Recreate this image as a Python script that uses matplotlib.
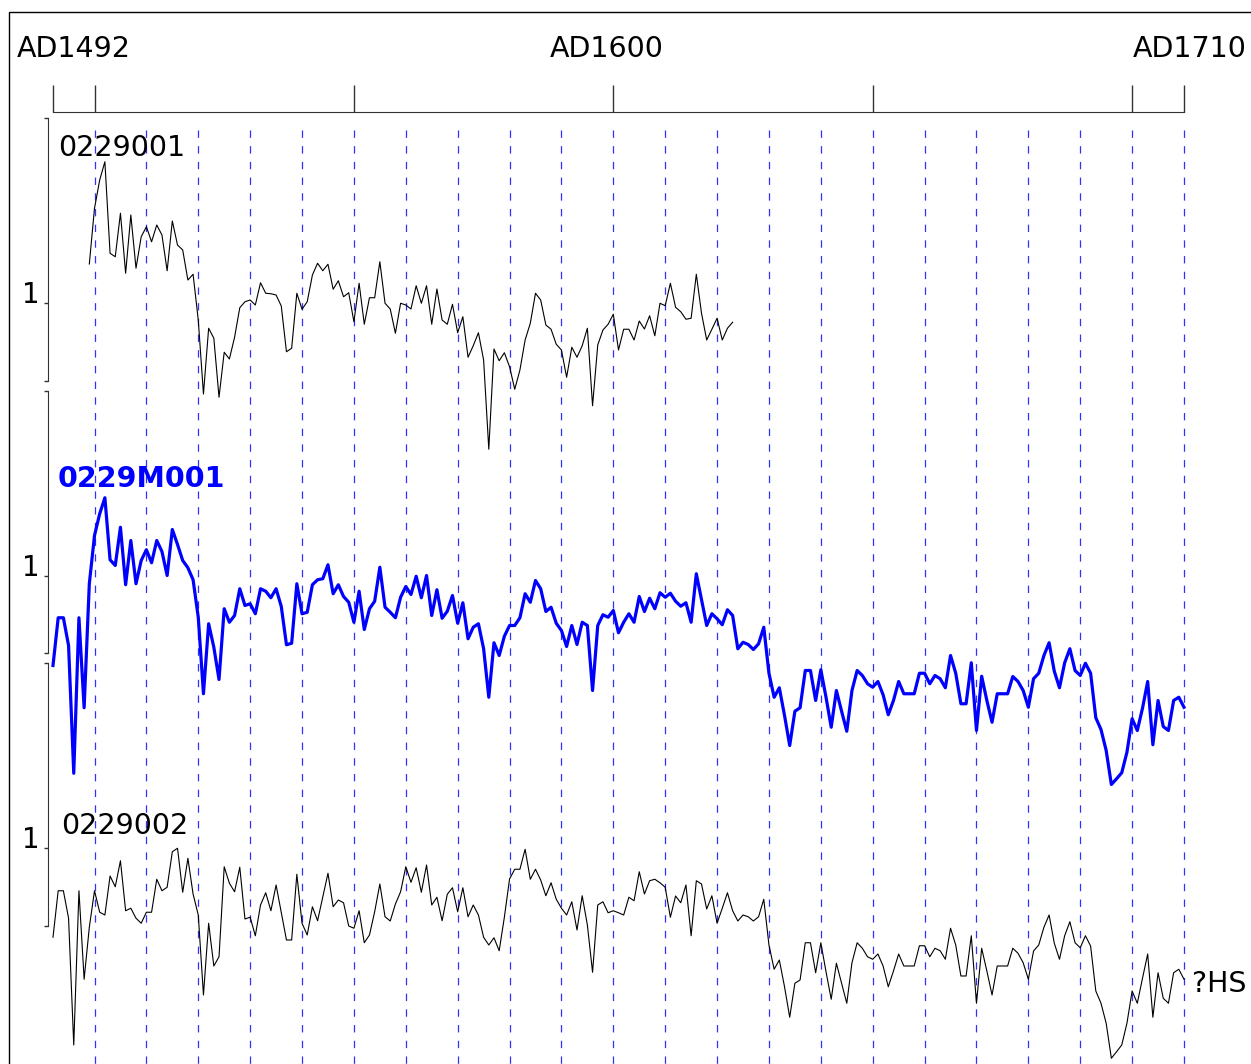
import numpy as np
import matplotlib.pyplot as plt
from matplotlib.patches import Rectangle

plt.rcParams['font.family'] = 'DejaVu Sans'
plt.rcParams['lines.scale_dashes'] = False

# ring-width indices
start_001 = 1499
idx_001 = [1.156,
           1.379, 1.492, 1.565, 1.199, 1.185, 1.359, 1.119, 1.352, 1.139, 1.265,
           1.305, 1.245, 1.312, 1.272, 1.129, 1.328, 1.232, 1.212, 1.092, 1.115,
           0.932, 0.636, 0.899, 0.859, 0.623, 0.803, 0.776, 0.863, 0.981, 1.005,
           1.012, 0.992, 1.081, 1.039, 1.037, 1.032, 0.988, 0.805, 0.819, 1.039,
           0.975, 1.005, 1.112, 1.159, 1.129, 1.155, 1.055, 1.089, 1.025, 1.041,
           0.925, 1.079, 0.915, 1.021, 1.021, 1.165, 0.999, 0.976, 0.879, 0.999,
           0.992, 0.976, 1.069, 0.999, 1.069, 0.915, 1.056, 0.932, 0.915, 0.995,
           0.881, 0.945, 0.783, 0.829, 0.881, 0.772, 0.415, 0.816, 0.769, 0.801,
           0.745, 0.655, 0.732, 0.852, 0.919, 1.039, 1.012, 0.912, 0.895, 0.835,
           0.812, 0.703, 0.823, 0.783, 0.829, 0.899, 0.589, 0.832, 0.892, 0.915,
           0.955, 0.812, 0.895, 0.895, 0.852, 0.928, 0.896, 0.949, 0.869, 0.999,
           0.989, 1.079, 0.983, 0.965, 0.935, 0.939, 1.115, 0.959, 0.852, 0.895,
           0.939, 0.852, 0.899, 0.923]

start_m = 1492
idx_m = [0.640, 0.831, 0.831, 0.720, 0.209, 0.831, 0.471, 0.967,
         1.160, 1.247, 1.311, 1.063, 1.040, 1.193, 0.963, 1.140, 0.967, 1.060,
         1.103, 1.051, 1.140, 1.096, 1.000, 1.184, 1.124, 1.060, 1.031, 0.983,
         0.833, 0.527, 0.807, 0.713, 0.584, 0.867, 0.813, 0.840, 0.947, 0.880,
         0.887, 0.847, 0.947, 0.937, 0.911, 0.947, 0.876, 0.723, 0.729, 0.967,
         0.847, 0.853, 0.963, 0.983, 0.987, 1.043, 0.927, 0.963, 0.916, 0.893,
         0.813, 0.937, 0.784, 0.867, 0.897, 1.033, 0.873, 0.853, 0.831, 0.913,
         0.956, 0.924, 0.997, 0.911, 1.000, 0.840, 0.943, 0.829, 0.857, 0.920,
         0.809, 0.891, 0.747, 0.793, 0.807, 0.707, 0.513, 0.731, 0.680, 0.757,
         0.800, 0.800, 0.831, 0.927, 0.893, 0.980, 0.947, 0.856, 0.873, 0.809,
         0.780, 0.716, 0.800, 0.724, 0.813, 0.800, 0.540, 0.800, 0.843, 0.833,
         0.860, 0.771, 0.813, 0.847, 0.813, 0.916, 0.856, 0.909, 0.867, 0.931,
         0.913, 0.929, 0.897, 0.877, 0.891, 0.813, 1.007, 0.903, 0.800, 0.847,
         0.827, 0.803, 0.863, 0.840, 0.707, 0.733, 0.724, 0.704, 0.727, 0.793,
         0.609, 0.513, 0.551, 0.440, 0.320, 0.457, 0.471, 0.620, 0.620, 0.500,
         0.623, 0.513, 0.393, 0.540, 0.457, 0.377, 0.540, 0.620, 0.600, 0.567,
         0.553, 0.576, 0.523, 0.443, 0.500, 0.576, 0.527, 0.527, 0.527, 0.609,
         0.609, 0.567, 0.600, 0.587, 0.551, 0.680, 0.609, 0.487, 0.487, 0.651,
         0.380, 0.597, 0.500, 0.413, 0.527, 0.527, 0.527, 0.596, 0.576, 0.540,
         0.473, 0.587, 0.609, 0.680, 0.731, 0.617, 0.551, 0.651, 0.707, 0.620,
         0.600, 0.649, 0.609, 0.431, 0.384, 0.300, 0.164, 0.187, 0.211, 0.293,
         0.427, 0.380, 0.469, 0.576, 0.323, 0.500, 0.396, 0.380, 0.500, 0.513, 0.473]

start_002 = 1492
idx_002 = [0.643, 0.829, 0.829, 0.719, 0.212, 0.829, 0.475, 0.683,
           0.829, 0.743, 0.732, 0.888, 0.845, 0.949, 0.749, 0.759, 0.719, 0.699,
           0.743, 0.743, 0.875, 0.829, 0.843, 0.985, 0.999, 0.823, 0.959, 0.816,
           0.732, 0.412, 0.699, 0.528, 0.565, 0.925, 0.859, 0.825, 0.923, 0.716,
           0.723, 0.649, 0.772, 0.821, 0.749, 0.852, 0.741, 0.632, 0.632, 0.895,
           0.699, 0.652, 0.765, 0.709, 0.803, 0.899, 0.765, 0.792, 0.781, 0.688,
           0.679, 0.749, 0.621, 0.652, 0.745, 0.856, 0.725, 0.708, 0.776, 0.825,
           0.925, 0.863, 0.921, 0.823, 0.932, 0.772, 0.803, 0.709, 0.815, 0.841,
           0.745, 0.841, 0.725, 0.772, 0.732, 0.643, 0.612, 0.641, 0.589, 0.723,
           0.876, 0.915, 0.915, 0.995, 0.875, 0.915, 0.872, 0.809, 0.861, 0.795,
           0.759, 0.732, 0.785, 0.672, 0.809, 0.692, 0.503, 0.772, 0.785, 0.741,
           0.749, 0.741, 0.732, 0.803, 0.789, 0.905, 0.816, 0.869, 0.875, 0.861,
           0.843, 0.723, 0.808, 0.781, 0.852, 0.649, 0.869, 0.856, 0.756, 0.809,
           0.699, 0.759, 0.821, 0.749, 0.708, 0.732, 0.725, 0.708, 0.725, 0.795,
           0.612, 0.515, 0.552, 0.445, 0.323, 0.459, 0.472, 0.621, 0.621, 0.501,
           0.621, 0.505, 0.395, 0.539, 0.459, 0.379, 0.541, 0.621, 0.599, 0.565,
           0.555, 0.576, 0.528, 0.445, 0.508, 0.576, 0.528, 0.528, 0.528, 0.609,
           0.609, 0.565, 0.599, 0.589, 0.555, 0.679, 0.612, 0.488, 0.488, 0.649,
           0.379, 0.599, 0.508, 0.412, 0.528, 0.528, 0.528, 0.599, 0.579, 0.541,
           0.475, 0.588, 0.612, 0.683, 0.732, 0.619, 0.555, 0.649, 0.705, 0.621,
           0.601, 0.649, 0.608, 0.428, 0.379, 0.299, 0.159, 0.185, 0.212, 0.299,
           0.428, 0.379, 0.479, 0.576, 0.323, 0.501, 0.399, 0.379, 0.501, 0.515, 0.475]

names = ['0229001', '0229M001', '0229002']
tail_label = '?HS'
year_ticks = [1492, 1500, 1550, 1600, 1650, 1700, 1710]
year_labels = ['AD1492', 'AD1600', 'AD1710']
grid_years = np.arange(1500, 1711, 10)

W, H = 1251, 1064
off = 1.09            # vertical spacing between tracks
seg = (0.69, 1.74)    # extent of each track's y axis
ylo, yhi = -2.044, 1.764

fig = plt.figure(figsize=(W / 100, H / 100), dpi=100)
rect = [53 / W, 0, 1131 / W, 1 - 112 / H]

ax = fig.add_axes(rect)
ax.set_xlim(1492, 1710)
ax.set_ylim(ylo, yhi)
ax.patch.set_alpha(0)
for s in ['left', 'right', 'bottom']:
    ax.spines[s].set_visible(False)
ax.spines['top'].set_color('#333333')
ax.xaxis.tick_top()
ax.set_xticks(year_ticks)
ax.tick_params(axis='x', direction='out', length=19.5, width=1,
               color='#333333', labeltop=False)
ax.set_yticks([])

# decade grid
for gx in grid_years:
    ax.plot([gx, gx], [1.692, ylo], color='#3030ff', lw=0.9,
            dashes=(5.3, 6), zorder=1, clip_on=False)

tracks = [(start_001, idx_001, 'black', 0.8),
          (start_m, idx_m, '#0000ff', 2.3),
          (start_002, idx_002, 'black', 0.8)]
for k, (y0, vals, col, lw) in enumerate(tracks):
    v = np.array(vals)
    yrs = np.arange(y0, y0 + len(v))
    ax.plot(yrs, v - k * off, color=col, lw=lw, zorder=3, clip_on=False)

    axk = fig.add_axes(rect, sharex=ax)
    axk.set_ylim(ylo, yhi)
    axk.patch.set_alpha(0)
    for s in ['right', 'top', 'bottom']:
        axk.spines[s].set_visible(False)
    axk.spines['left'].set_position(('outward', 3.6))
    axk.spines['left'].set_bounds(seg[0] - k * off, seg[1] - k * off)
    axk.spines['left'].set_color('#333333')
    axk.set_yticks([seg[0] - k * off, 1 - k * off, seg[1] - k * off])
    axk.set_yticklabels(['', '1', ''])
    axk.tick_params(axis='y', direction='out', length=2.9, width=1,
                    color='#333333', pad=2.9, labelsize=20)
    for lb in axk.get_yticklabels():
        lb.set_verticalalignment('baseline')
    axk.tick_params(axis='x', bottom=False, top=False,
                    labelbottom=False, labeltop=False)

def px(x, y):
    return x / W, 1 - y / H

fs = 20.5
fig.text(*px(17, 57), year_labels[0], fontsize=fs, ha='left', va='baseline')
fig.text(*px(607, 57), year_labels[1], fontsize=fs, ha='center', va='baseline')
fig.text(*px(1247, 57), year_labels[2], fontsize=fs, ha='right', va='baseline')

fig.text(*px(58, 156), names[0], fontsize=fs, ha='left', va='baseline')
fig.text(*px(58, 487), names[1], fontsize=fs, ha='left', va='baseline',
         color='#0000ff', fontweight='bold')
fig.text(*px(61, 834), names[2], fontsize=fs, ha='left', va='baseline')
fig.text(*px(1192, 992), tail_label, fontsize=fs, ha='left', va='baseline')

x0, y0 = px(9, 12)
fig.add_artist(Rectangle((x0, -0.1), 1.2, y0 + 0.1, transform=fig.transFigure,
                         fill=False, edgecolor='black', lw=1.0))

fig.savefig('out.png', dpi=100)
